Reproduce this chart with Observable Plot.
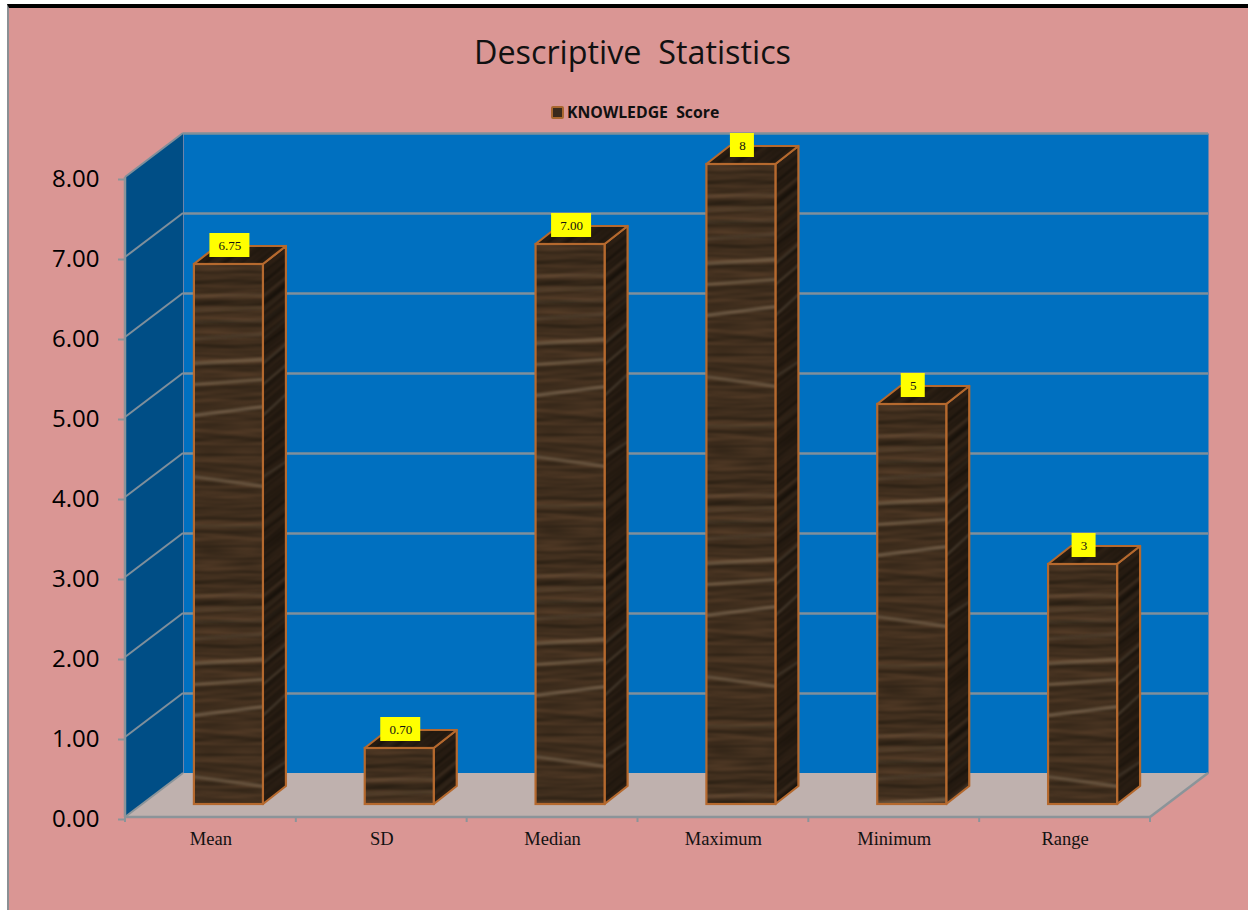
<!DOCTYPE html>
<html>
<head>
<meta charset="utf-8">
<script src="https://cdn.jsdelivr.net/npm/d3@7"></script>
<script src="https://cdn.jsdelivr.net/npm/@observablehq/plot@0.6"></script>
<style>
  html, body { margin: 0; padding: 0; background: #fff; overflow: hidden; }
  #sheet { position: absolute; left: 7px; top: 4px; width: 1241px; height: 906px; box-sizing: border-box;
           background: #DA9694; border-top: 4px solid #000; border-left: 2px solid #8b9094; }
  #title { position: absolute; left: 0; top: 32px; width: 1265px; text-align: center; white-space: pre;
           font: 32.3px/38px "Open Sans", sans-serif; color: #111; }
  #legend { position: absolute; left: 551px; top: 102px; height: 20px; white-space: pre; display: flex; align-items: center;
            font: bold 15.8px/20px "Open Sans", sans-serif; color: #111; }
  #legend i { display: inline-block; width: 9px; height: 9px; margin-right: 3px; background: #3b2a1c; border: 2px solid #a9672f; border-radius: 2px; }
  #chart { position: absolute; left: 0; top: 125px; }
  #chart svg { background: transparent; overflow: visible; }
</style>
</head>
<body>
<div id="sheet"></div>
<div id="title">Descriptive  Statistics</div>
<div id="legend"><i></i><span>KNOWLEDGE  Score</span></div>
<div id="chart"></div>
<script>
// Descriptive statistics of the knowledge score
const stats = ["Mean", "SD", "Median", "Maximum", "Minimum", "Range"];
const values = [6.75, 0.70, 7.00, 8, 5, 3];
const valueLabels = ["6.75", "0.70", "7.00", "8", "5", "3"];
const yTicks = [0, 1, 2, 3, 4, 5, 6, 7, 8];

// Light grain bands in the wood tile: offset at the left edge, offset at the right edge, strength
const grainBands = [
  [32, 31, 0.1], [46, 44, 0.12], [58, 57, 0.1],
  [75, 70, 0.16], [100, 95, 0.36], [121, 115, 0.36], [152, 142, 0.42], [212, 223, 0.34], [262, 262, 0.1]
];

const rows = stats.map((stat, i) => ({stat, value: values[i], label: valueLabels[i], i}));

// Offsets of the pseudo-3D box: wall depth, bar shift on the floor, bar depth
const wall = {dx: 58, dy: -44};
const barShift = {dx: 18, dy: -13};
const barDepth = {dx: 23, dy: -18};
const woodTile = {w: 70, h: 300};

const gridColor = "#7f8f9b";
const axisColor = "#8b9499";
const edgeColor = "#b5692e";

const poly = pts => pts.map(p => p.join(",")).join(" ");

// Side wall, floor and the slanted part of every gridline
function walls(index, {x, y}) {
  const g = d3.create("svg:g");
  const step = x(stats[1]) - x(stats[0]);
  const x0 = x(stats[0]) - (step - x.bandwidth()) / 2;
  const x1 = x0 + step * stats.length;
  const top = y(yTicks[yTicks.length - 1]), base = y(0);
  g.append("polygon").attr("fill", "#004E86")
    .attr("points", poly([[x0, top], [x0 + wall.dx, top + wall.dy], [x0 + wall.dx, base + wall.dy], [x0, base]]));
  g.append("polygon").attr("fill", "#BFB1AE")
    .attr("points", poly([[x0, base], [x1, base], [x1 + wall.dx, base + wall.dy], [x0 + wall.dx, base + wall.dy]]));
  g.selectAll("line.grid").data(yTicks).join("line")
    .attr("x1", x0).attr("y1", d => y(d))
    .attr("x2", x0 + wall.dx).attr("y2", d => y(d) + wall.dy)
    .attr("stroke", d => d === 0 ? axisColor : gridColor).attr("stroke-width", 2);
  g.append("line").attr("x1", x1).attr("y1", base).attr("x2", x1 + wall.dx).attr("y2", base + wall.dy)
    .attr("stroke", axisColor).attr("stroke-width", 2.5);
  return g.node();
}

// Axis spine, baseline and the ticks between the categories
function axisFrame(index, {x, y}) {
  const g = d3.create("svg:g").attr("stroke", axisColor).attr("stroke-width", 2.5);
  const step = x(stats[1]) - x(stats[0]);
  const x0 = x(stats[0]) - (step - x.bandwidth()) / 2;
  const base = y(0);
  g.append("line").attr("x1", x0).attr("x2", x0).attr("y1", y(8)).attr("y2", base);
  g.append("line").attr("x1", x0).attr("x2", x0 + step * stats.length).attr("y1", base).attr("y2", base);
  g.selectAll("line.tick").data(d3.range(stats.length + 1)).join("line")
    .attr("x1", i => x0 + step * i).attr("x2", i => x0 + step * i)
    .attr("y1", base).attr("y2", base + 5).attr("stroke-width", 2);
  return g.node();
}

// Wood textures anchored to each bar's top, plus the side and top faces of the boxes
function barBodies(index, {x, y}) {
  const g = d3.create("svg:g");
  const defs = g.append("defs");
  const filter = defs.append("filter").attr("id", "wood-noise")
    .attr("filterUnits", "userSpaceOnUse").attr("x", 0).attr("y", 0)
    .attr("width", woodTile.w).attr("height", woodTile.h)
    .attr("color-interpolation-filters", "sRGB");
  filter.append("feTurbulence").attr("type", "fractalNoise")
    .attr("baseFrequency", "0.004 0.14").attr("numOctaves", 2).attr("seed", 11).attr("stitchTiles", "stitch");
  filter.append("feColorMatrix").attr("type", "matrix")
    .attr("values", "0.24 0 0 0 0.13  0.16 0 0 0 0.1  0.11 0 0 0 0.06  0 0 0 0 1");
  defs.append("filter").attr("id", "grain-soft")
    .attr("filterUnits", "userSpaceOnUse").attr("x", -10).attr("y", -10)
    .attr("width", woodTile.w + 20).attr("height", woodTile.h + 20)
    .append("feGaussianBlur").attr("stdDeviation", 1);

  const w = x.bandwidth();
  rows.forEach(d => {
    const left = x(d.stat) + barShift.dx, topY = y(d.value) + barShift.dy;
    const slope = barDepth.dy / barDepth.dx;
    // The front face is drawn inside the bar mark's own dx/dy translation, so its tile
    // is anchored in unshifted coordinates; the side faces are drawn in plot coordinates.
    [["wood-" + d.i, `translate(${x(d.stat)},${y(d.value)})`],
     ["wood-side-" + d.i, `matrix(1,${slope},0,1,${left + w},${topY})`]].forEach(([id, transform]) => {
      const p = defs.append("pattern").attr("id", id).attr("patternUnits", "userSpaceOnUse")
        .attr("width", woodTile.w).attr("height", woodTile.h).attr("patternTransform", transform);
      p.append("rect").attr("width", woodTile.w).attr("height", woodTile.h).attr("filter", "url(#wood-noise)");
      const streaks = p.append("g").attr("filter", "url(#grain-soft)");
      grainBands.forEach(([a, b, k]) => {
        streaks.append("line").attr("stroke", "#a89274").attr("stroke-opacity", k).attr("stroke-width", 3.5)
          .attr("x1", -5).attr("y1", a).attr("x2", woodTile.w + 5).attr("y2", b);
      });
    });

    const r = left + w, b = y(0) + barShift.dy, ddx = barDepth.dx, ddy = barDepth.dy;
    const side = poly([[r, topY], [r + ddx, topY + ddy], [r + ddx, b + ddy], [r, b]]);
    const lid = poly([[left, topY], [left + ddx, topY + ddy], [r + ddx, topY + ddy], [r, topY]]);
    for (const pts of [side, lid]) {
      g.append("polygon").attr("points", pts).attr("fill", `url(#wood-side-${d.i})`);
      g.append("polygon").attr("points", pts).attr("fill", "#000").attr("fill-opacity", 0.42)
        .attr("stroke", edgeColor).attr("stroke-width", 2.2).attr("stroke-linejoin", "round");
    }
  });
  return g.node();
}

// Yellow plates behind the value labels
function labelPlates(index, {x, y}) {
  const g = d3.create("svg:g");
  g.selectAll("rect").data(rows).join("rect")
    .attr("fill", "#FFFF00")
    .attr("width", d => d.label.length > 1 ? 40 : 24)
    .attr("height", 24)
    .attr("x", d => x(d.stat) + x.bandwidth() / 2 + barShift.dx + 1 - (d.label.length > 1 ? 20 : 12))
    .attr("y", d => y(d.value) + barShift.dy - 31);
  return g.node();
}

const chart = Plot.plot({
  width: 1248,
  height: 785,
  marginTop: 52,
  marginBottom: 93,
  marginLeft: 125,
  marginRight: 98,
  style: {background: "transparent"},
  color: {type: "identity"},
  x: {domain: stats, paddingInner: 0.596, paddingOuter: 0.298, round: false, label: null},
  y: {domain: [0, 8], label: null},
  marks: [
    // Back wall with its gridlines, pushed away from the front plane
    Plot.frame({fill: "#0070C0", dx: wall.dx, dy: wall.dy}),
    walls,
    Plot.ruleY(yTicks.slice(1), {stroke: gridColor, strokeWidth: 2.5, strokeOpacity: 1, dx: wall.dx, dy: wall.dy}),
    axisFrame,
    Plot.axisY({
      ticks: yTicks, tickFormat: d3.format(".2f"), tickSize: 7, tickPadding: 19,
      fontSize: 24, fontFamily: "Open Sans", stroke: axisColor, strokeWidth: 2, fill: "#000", dy: 2, label: null
    }),
    Plot.axisX({
      tickSize: 0, tickPadding: 14, fontSize: 18.5, fontFamily: "Liberation Serif", fill: "#111", label: null
    }),
    barBodies,
    Plot.barY(rows, {
      x: "stat", y: "value",
      fill: d => `url(#wood-${d.i})`,
      stroke: edgeColor, strokeWidth: 2.2,
      dx: barShift.dx, dy: barShift.dy
    }),
    labelPlates,
    Plot.text(rows, {
      x: "stat", y: "value", text: "label",
      dx: barShift.dx + 1, dy: barShift.dy - 19,
      fontSize: 13, fontFamily: "Liberation Serif", fill: "#111"
    })
  ]
});
document.getElementById("chart").append(chart);
</script>
</body>
</html>
